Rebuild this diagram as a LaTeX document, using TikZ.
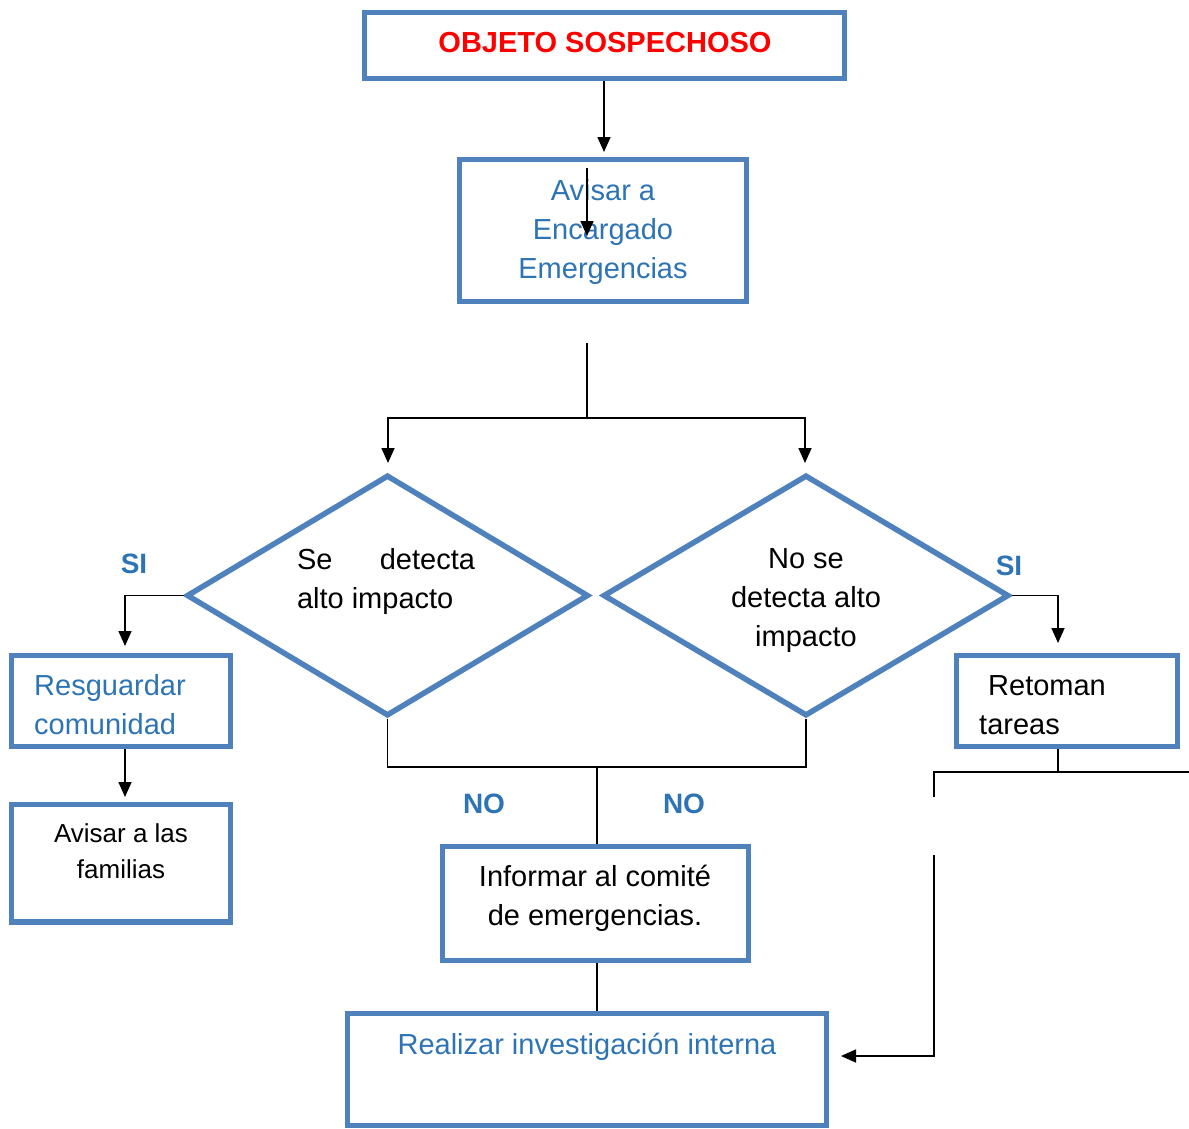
\documentclass[tikz,border=0pt]{standalone}
\usepackage{fontspec}
\setmainfont{Liberation Sans}
\usetikzlibrary{arrows.meta,shapes.geometric}
\definecolor{boxline}{RGB}{79,129,189}
\definecolor{bluetext}{RGB}{46,116,181}
\begin{document}
\begin{tikzpicture}[x=1pt,y=-1pt,
  box/.style={draw=boxline,line width=5.5pt,rectangle,inner sep=0pt},
  decision/.style={draw=boxline,line width=5.5pt,diamond,inner sep=0pt},
  txt/.style={inner sep=0pt,font=\fontsize{29}{39}\selectfont},
  smalltxt/.style={inner sep=0pt,font=\fontsize{26}{36}\selectfont},
  tag/.style={inner sep=0pt,text=bluetext,font=\fontsize{28}{34}\selectfont\bfseries},
  link/.style={draw=black,line width=1.6pt},
  arr/.style={link,-{Triangle[length=15pt,width=13pt]}}]
\useasboundingbox (0,0) rectangle (1189,1128);

% boxes
\node[box,minimum width=480pt,minimum height=66pt] (obj) at (604.5,45.5) {};
\node[txt,text=red,font=\fontsize{29}{39}\selectfont\bfseries] (objt) at (605,43) {OBJETO SOSPECHOSO};

\node[box,minimum width=287pt,minimum height=142pt] (avisar) at (603,230.5) {};
\node[txt,text=bluetext,align=center] (avisart) at (603,232) {Avisar a\\Encargado\\Emergencias};

\node[decision,minimum width=402pt,minimum height=241pt] (d1) at (387.5,595.5) {};
\node[txt,align=left] (d1t) at (386,581) {\hbox to 178pt{Se\hfill detecta}\\alto impacto};

\node[decision,minimum width=406pt,minimum height=241pt] (d2) at (806,595.5) {};
\node[txt,align=center] (d2t) at (806,601) {No se\\detecta alto\\impacto};

\node[box,minimum width=219pt,minimum height=91pt] (resg) at (121,701) {};
\node[txt,text=bluetext,align=left,anchor=west] (resgt) at (34,705) {Resguardar\\comunidad};

\node[box,minimum width=219pt,minimum height=117.5pt] (fam) at (121,863) {};
\node[smalltxt,align=center] (famt) at (121,851) {Avisar a las\\familias};

\node[box,minimum width=221pt,minimum height=91pt] (ret) at (1067,701) {};
\node[txt,align=left,anchor=west] (rett) at (979,705) {\hspace{9pt}Retoman\\tareas};

\node[box,minimum width=306pt,minimum height=114pt] (inf) at (595.5,903.5) {};
\node[txt,align=center] (inft) at (595,898) {Informar al comité\\de emergencias.};

\node[box,minimum width=479pt,minimum height=112pt] (real) at (587,1069.5) {};
\node[txt,text=bluetext] (realt) at (587,1047) {Realizar investigación interna};

% labels
\node[tag] (si1) at (134,564) {SI};
\node[tag] (si2) at (1009,566) {SI};
\node[tag] (no1) at (484,804) {NO};
\node[tag] (no2) at (684,804) {NO};

% junction points
\coordinate (a1) at (604,152);
\coordinate (in1) at (587,168);
\coordinate (in2) at (587,236);
\coordinate (s0) at (587,343);
\coordinate (s1) at (587,418);
\coordinate (l1) at (388,463);
\coordinate (r1) at (805,463);
\coordinate (lsi) at (125,646);
\coordinate (rsi) at (1058,643);
\coordinate (fam1) at (125,797);
\coordinate (b1) at (388,767);
\coordinate (b2) at (597,767);
\coordinate (t1) at (1058,772);
\coordinate (t2) at (934,772);
\coordinate (t3) at (1189,772);
\coordinate (t4) at (934,797);
\coordinate (u1) at (934,855);
\coordinate (u2) at (934,1056);
\coordinate (u3) at (841,1056);

% connectors
\draw[arr] (a1 |- obj.south) -- (a1);
\draw[arr] (in1) -- (in2);
\draw[link] (s0) -- (s1);
\draw[arr] (s1) -| (l1);
\draw[arr] (s1) -| (r1);
\draw[arr] (d1.west) -| (lsi);
\draw[arr] (resg.south -| fam1) -- (fam1);
\draw[arr] (d2.east) -| (rsi);
\draw[link] (d1.south) |- (b1) -- (b2);
\draw[link] (b2) -| (d2.south);
\draw[link] (b2) -- (inf.north -| b2);
\draw[link] (inf.south -| b2) -- (real.north -| b2);
\draw[link] (ret.south -| t1) -- (t1);
\draw[link] (t4) -- (t2) -- (t3);
\draw[arr] (u1) -- (u2) -- (u3);
\end{tikzpicture}
\end{document}
